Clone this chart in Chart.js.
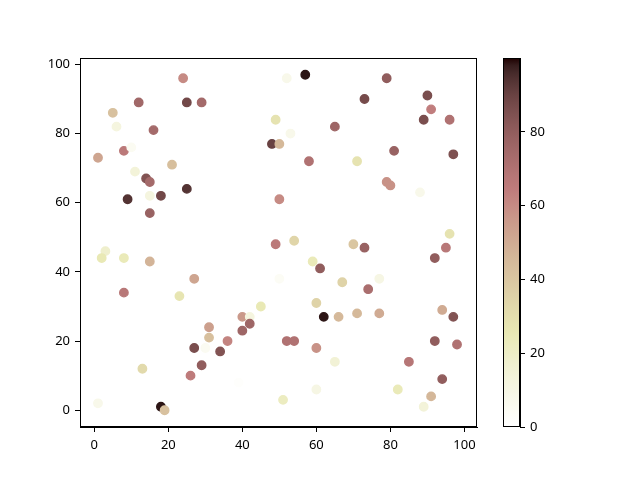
<!DOCTYPE html>
<html>
<head>
<meta charset="utf-8">
<script src="https://cdn.jsdelivr.net/npm/chart.js@4.4.1/dist/chart.umd.min.js"></script>
<style>
    body { margin: 0; background: #fff; }
    #wrap { position: relative; width: 640px; height: 480px; }
    canvas { position: absolute; left: 0; top: 0; }
</style>
</head>
<body>
<div id="wrap">
    <canvas id="grafico" width="640" height="480"></canvas>
    <canvas id="barra" width="640" height="480"></canvas>
</div>
<script>
// valores
var xs = [24, 12, 25, 29, 5, 6, 16, 8, 10, 1, 21, 11, 14, 15, 25, 9, 15, 18, 15, 49,
          48, 50, 50, 52, 57, 79, 73, 90, 91, 89, 96, 65, 53, 81, 97, 58, 71, 79, 80, 88,
          96, 49, 3, 2, 8, 15, 27, 8, 23, 45, 50, 40, 42, 42, 40, 31, 31, 36, 27, 30,
          34, 29, 26, 13, 1, 18, 19, 39, 51, 54, 70, 73, 95, 92, 59, 61, 67, 77, 74, 60,
          62, 66, 71, 77, 94, 97, 52, 54, 60, 92, 98, 65, 85, 94, 60, 82, 91, 89];
var ys = [96, 89, 89, 89, 86, 82, 81, 75, 76, 73, 71, 69, 67, 66, 64, 61, 62, 62, 57, 84,
          77, 77, 61, 96, 97, 96, 90, 91, 87, 84, 84, 82, 80, 75, 74, 72, 72, 66, 65, 63,
          51, 48, 46, 44, 44, 43, 38, 34, 33, 30, 38, 27, 27, 25, 23, 24, 21, 20, 18, 18,
          17, 13, 10, 12, 2, 1, 0, 8, 3, 49, 48, 47, 47, 44, 43, 41, 37, 38, 35, 31,
          27, 27, 28, 28, 29, 27, 20, 20, 18, 20, 19, 14, 14, 9, 6, 6, 4, 1];
var cores = [60, 75, 88, 74, 42, 12, 74, 66, 5, 52, 43, 14, 84, 74, 94, 94, 12, 88, 78, 28,
             90, 45, 60, 8, 99, 80, 87, 86, 64, 86, 70, 76, 8, 78, 85, 70, 28, 58, 58, 8,
             28, 66, 18, 25, 24, 47, 52, 67, 27, 25, 4, 56, 12, 76, 76, 54, 43, 62, 86, 5,
             84, 80, 65, 32, 8, 99, 42, 1, 22, 34, 40, 78, 67, 80, 24, 80, 35, 10, 72, 35,
             99, 45, 45, 50, 50, 84, 70, 70, 58, 80, 70, 15, 68, 80, 10, 24, 46, 14];
var ticksX = [0, 20, 40, 60, 80, 100];
var ticksY = [0, 20, 40, 60, 80, 100];
var ticksBarra = [0, 20, 40, 60, 80];
var faixaCores = [0, 100];

// colormap pink_r do matplotlib
function pinkR(v) {
    var t = 1 - (v - faixaCores[0]) / (faixaCores[1] - faixaCores[0]);
    var hr = Math.min(1, 0.0416 + t * (1 - 0.0416) / 0.365079);
    var hg = Math.min(1, Math.max(0, (t - 0.365079) / (0.746032 - 0.365079)));
    var hb = Math.min(1, Math.max(0, (t - 0.746032) / (1 - 0.746032)));
    var r = Math.sqrt((2 * t + hr) / 3);
    var g = Math.sqrt((2 * t + hg) / 3);
    var b = Math.sqrt((2 * t + hb) / 3);
    return "rgb(" + Math.round(r * 255) + "," + Math.round(g * 255) + "," + Math.round(b * 255) + ")";
}

var fonte = { family: "Noto Sans", size: 13 };

var moldura = {
    id: "moldura",
    afterDraw: function (chart) {
        var a = chart.chartArea;
        var c = chart.ctx;
        c.save();
        c.strokeStyle = "#000";
        c.lineWidth = 1;
        c.strokeRect(Math.round(a.left) + 0.5, Math.round(a.top) + 0.5,
                     Math.round(a.right - a.left) - 1, Math.round(a.bottom - a.top) - 1);
        c.restore();
    }
};

function eixo(ticks) {
    return {
        type: "linear",
        afterBuildTicks: function (s) {
            s.ticks = ticks.map(function (v) { return { value: v }; });
        },
        grid: { drawOnChartArea: false, drawTicks: true, tickLength: 5, tickColor: "#000", color: "#000" },
        border: { display: true, color: "#000" },
        ticks: { color: "#000", font: fonte, padding: 5, maxRotation: 0 }
    };
}

var pontos = [];
for (var i = 0; i < xs.length; i++) {
    pontos.push({ x: xs[i], y: ys[i] });
}
var corPontos = cores.map(pinkR);

// GRÁFICO DE DISPERSÃO
var escX = eixo(ticksX);
escX.min = -3.86;
escX.max = 103.4;
escX.afterFit = function (s) { s.height = 53; };
var escY = eixo(ticksY);
escY.min = -4.85;
escY.max = 101.85;
escY.afterFit = function (s) { s.width = 80; };

new Chart(document.getElementById("grafico"), {
    type: "scatter",
    data: {
        datasets: [{
            data: pontos,
            pointBackgroundColor: corPontos,
            pointBorderColor: corPontos,
            pointRadius: 4.2,
            pointBorderWidth: 1.4
        }]
    },
    options: {
        responsive: false,
        animation: false,
        devicePixelRatio: 1,
        layout: { padding: { left: 0, top: 58, right: 163, bottom: 0 } },
        plugins: { legend: { display: false }, tooltip: { enabled: false } },
        scales: { x: escX, y: escY }
    },
    plugins: [moldura]
});

// BARRA DE CORES
var escBarra = eixo(ticksBarra);
escBarra.position = "right";
escBarra.min = faixaCores[0];
escBarra.max = faixaCores[1];
escBarra.afterFit = function (s) { s.width = 120; };

new Chart(document.getElementById("barra"), {
    type: "bar",
    data: {
        labels: ["cor"],
        datasets: [{
            data: [faixaCores],
            barPercentage: 1,
            categoryPercentage: 1,
            borderWidth: 0,
            backgroundColor: function (ctx) {
                var a = ctx.chart.chartArea;
                if (!a) return "#fff";
                var gr = ctx.chart.ctx.createLinearGradient(0, a.bottom, 0, a.top);
                for (var k = 0; k <= 50; k++) {
                    gr.addColorStop(k / 50, pinkR(faixaCores[0] + (faixaCores[1] - faixaCores[0]) * k / 50));
                }
                return gr;
            }
        }]
    },
    options: {
        responsive: false,
        animation: false,
        devicePixelRatio: 1,
        layout: { padding: { left: 503, top: 58, right: 0, bottom: 53 } },
        plugins: { legend: { display: false }, tooltip: { enabled: false } },
        scales: {
            x: { display: false },
            y: escBarra
        }
    },
    plugins: [moldura]
});
</script>
</body>
</html>
